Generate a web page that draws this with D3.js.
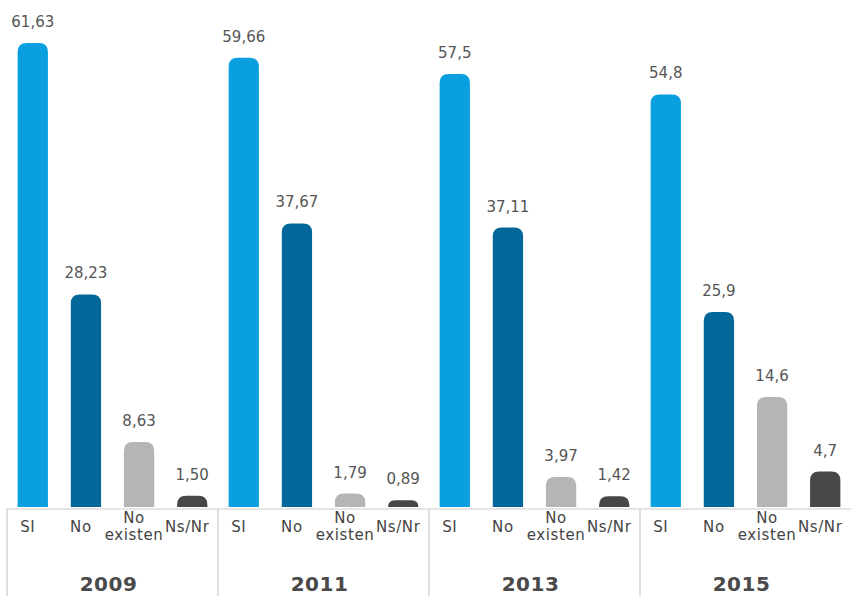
<!DOCTYPE html>
<html>
<head>
<meta charset="UTF-8" />
<title>SI / No / No existen / Ns/Nr</title>
<script src="https://cdn.jsdelivr.net/npm/d3@7"></script>
<style>
	body { margin: 0; background: #fff; }
	text { font-family: "DejaVu Sans", "Open Sans", sans-serif; }
</style>
</head>
<body>
<svg id="chart"></svg>
<script>
// data
var years = ["2009", "2011", "2013", "2015"];
var categories = ["SI", "No", "No existen", "Ns/Nr"];
var catLines = [["SI"], ["No"], ["No", "existen"], ["Ns/Nr"]];
var valSI = [61.63, 59.66, 57.5, 54.8];
var valNo = [28.23, 37.67, 37.11, 25.9];
var valNoExisten = [8.63, 1.79, 3.97, 14.6];
var valNsNr = [1.50, 0.89, 1.42, 4.7];
var valLabels = [
	["61,63", "28,23", "8,63", "1,50"],
	["59,66", "37,67", "1,79", "0,89"],
	["57,5", "37,11", "3,97", "1,42"],
	["54,8", "25,9", "14,6", "4,7"]
];
var colors = ["#0aa0e0", "#04679a", "#b5b5b5", "#474747"];

var W = 851, H = 596, baseY = 507, axisY = 509;
var svg = d3.select("#chart").attr("width", W).attr("height", H);

var x0 = d3.scaleBand().domain(years).range([7, W]).padding(0);
var x1 = d3.scaleBand().domain(categories).range([0, x0.bandwidth()])
	.paddingInner(0.43).paddingOuter(0.2);
var y = d3.scaleLinear().domain([0, 61.63]).range([baseY, 43]);

var series = [valSI, valNo, valNoExisten, valNsNr];
var rows = [];
years.forEach(function(yr, i){
	categories.forEach(function(c, j){
		rows.push({year: yr, cat: c, j: j, v: series[j][i], label: valLabels[i][j]});
	});
});

function topRounded(x, yTop, w, h, r){
	r = Math.min(r, h, w / 2);
	return "M" + x + "," + (yTop + h) +
		"V" + (yTop + r) +
		"Q" + x + "," + yTop + " " + (x + r) + "," + yTop +
		"H" + (x + w - r) +
		"Q" + (x + w) + "," + yTop + " " + (x + w) + "," + (yTop + r) +
		"V" + (yTop + h) + "Z";
}

svg.selectAll("path.bar").data(rows).enter().append("path")
	.attr("class", "bar")
	.attr("fill", function(d){ return colors[d.j]; })
	.attr("d", function(d){
		var bx = x0(d.year) + x1(d.cat);
		return topRounded(bx, y(d.v), x1.bandwidth(), baseY - y(d.v), 9);
	});

svg.selectAll("text.val").data(rows).enter().append("text")
	.attr("class", "val")
	.attr("x", function(d){ return x0(d.year) + x1(d.cat) + x1.bandwidth() / 2; })
	.attr("y", function(d){ return y(d.v) - 16; })
	.attr("text-anchor", "middle")
	.attr("font-size", 15)
	.attr("fill", "#555")
	.text(function(d){ return d.label; });

// axis frame
svg.append("line").attr("x1", x0.range()[0]).attr("x2", W)
	.attr("y1", axisY).attr("y2", axisY)
	.attr("stroke", "#cccccc").attr("stroke-width", 1.2);
svg.selectAll("line.sep").data(years).enter().append("line")
	.attr("class", "sep")
	.attr("x1", function(d){ return x0(d); }).attr("x2", function(d){ return x0(d); })
	.attr("y1", axisY).attr("y2", H)
	.attr("stroke", "#cccccc").attr("stroke-width", 1.2);

// category labels, one text per line
var catRows = [];
rows.forEach(function(d){
	var lines = catLines[d.j];
	lines.forEach(function(l, k){
		catRows.push({d: d, text: l, y: lines.length > 1 ? 523 + k * 17 : 532});
	});
});
svg.selectAll("text.cat").data(catRows).enter().append("text")
	.attr("class", "cat")
	.attr("x", function(c){ return x0(c.d.year) + x1(c.d.cat) + x1.bandwidth() / 2 - 5; })
	.attr("y", function(c){ return c.y; })
	.attr("text-anchor", "middle")
	.attr("font-size", 15)
	.attr("letter-spacing", 0.6)
	.attr("fill", "#444")
	.text(function(c){ return c.text; });

// year labels
svg.selectAll("text.year").data(years).enter().append("text")
	.attr("class", "year")
	.attr("x", function(d){ return x0(d) + x0.bandwidth() / 2 - 4; })
	.attr("y", 591)
	.attr("text-anchor", "middle")
	.attr("font-size", 20)
	.attr("font-weight", 700)
	.attr("letter-spacing", 0.5)
	.attr("fill", "#4a4a4a")
	.text(function(d){ return d; });
</script>
</body>
</html>
